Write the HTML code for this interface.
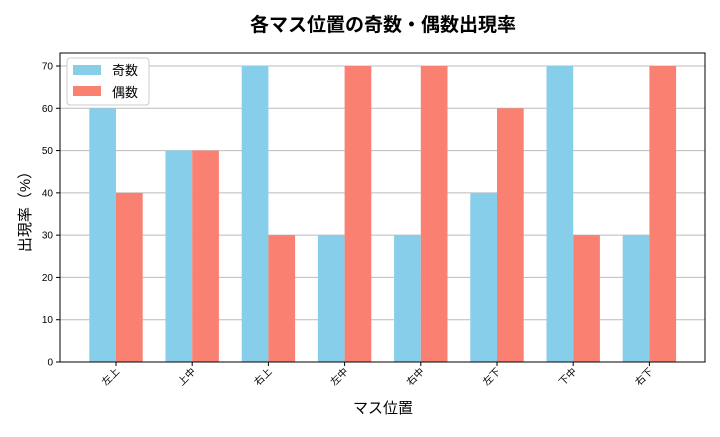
<!DOCTYPE html>
<html><head><meta charset="utf-8"><style>
body{margin:0;background:#fff;}
svg text{font-family:"Liberation Sans","Noto Sans CJK JP",sans-serif;}
</style></head><body>
<svg id="c" width="720" height="432" xmlns="http://www.w3.org/2000/svg">
<text x="383" y="31" text-anchor="middle" font-size="19" font-weight="bold">各マス位置の奇数・偶数出現率</text>
<g id="grid"></g><g id="bars"></g><g id="axes"></g>
<text x="383" y="413" text-anchor="middle" font-size="15">マス位置</text>
<text transform="translate(30,208) rotate(-90)" text-anchor="middle" font-size="15">出現率（%）</text>
<g>
<rect x="67" y="58" width="82" height="47" fill="#fff" stroke="#ccc" rx="3"/>
<rect x="73" y="65" width="28" height="10" fill="#87CEEB"/>
<text x="112" y="75" font-size="13">奇数</text>
<rect x="73" y="86" width="28" height="10" fill="#FA8072"/>
<text x="112" y="97" font-size="13">偶数</text>
</g>
</svg>
<script>
const categories=["左上","上中","右上","左中","右中","左下","下中","右下"];
const oddValues=[60,50,70,30,30,40,70,30];
const evenValues=[40,50,30,70,70,60,30,70];
const yTicks=[0,10,20,30,40,50,60,70];
const NS="http://www.w3.org/2000/svg";
const L=60,R=705,T=53,B=362;
const y=v=>B-v*(B-66)/70;
const x=i=>116+i*76.2;
const bw=26.7;
function mk(p,tag,a){const e=document.createElementNS(NS,tag);for(const k in a)e.setAttribute(k,a[k]);document.getElementById(p).appendChild(e);return e;}
yTicks.forEach(t=>{
 const g=mk("grid","line",{x1:L,x2:R,y1:y(t),y2:y(t),stroke:"#bbb","stroke-width":1});
 
 
 const tk=mk("axes","line",{x1:L-4,x2:L,y1:y(t),y2:y(t),stroke:"#000"});
 
 
 const tx=mk("axes","text",{x:L-7,y:y(t)+3.5,"text-anchor":"end","font-size":10});
 tx.textContent=t;
 
 
});
categories.forEach((c,i)=>{
 const a=mk("bars","rect",{x:x(i)-bw,y:y(oddValues[i]),width:bw,height:B-y(oddValues[i]),fill:"#87CEEB"});
 
 
 const b=mk("bars","rect",{x:x(i),y:y(evenValues[i]),width:bw,height:B-y(evenValues[i]),fill:"#FA8072"});
 
 
 const tk=mk("axes","line",{x1:x(i),x2:x(i),y1:B,y2:B+4,stroke:"#000"});
 
 
 const tx=mk("axes","text",{transform:`translate(${x(i)+4},${B+10}) rotate(-45)`,"text-anchor":"end","font-size":10});
 tx.textContent=c;
 
 
});
const fr=mk("axes","rect",{x:L,y:T,width:R-L,height:B-T,fill:"none",stroke:"#000","stroke-width":1});


</script>
</body></html>
